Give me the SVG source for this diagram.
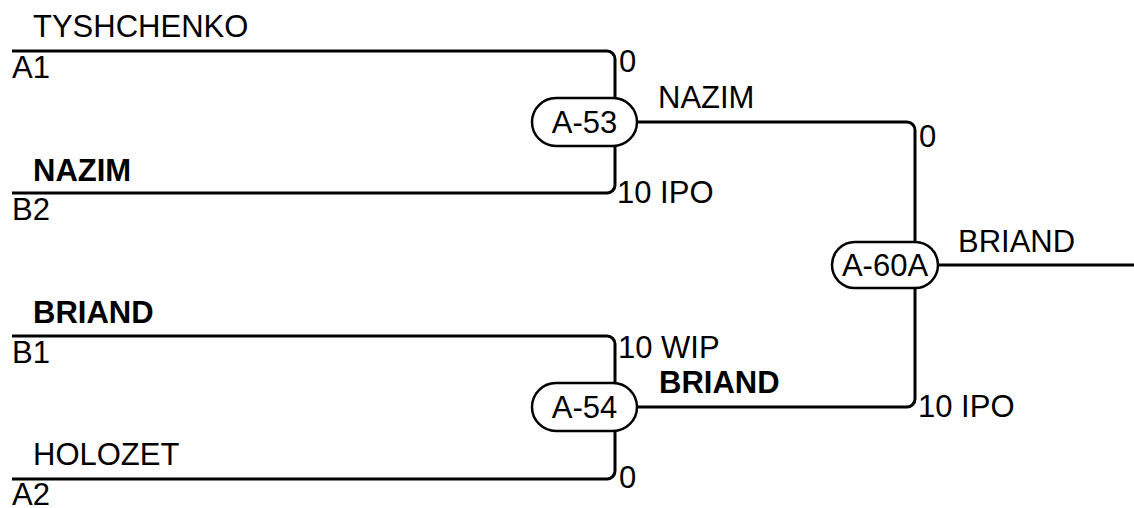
<svg xmlns="http://www.w3.org/2000/svg" width="1134" height="508" viewBox="0 0 1134 508">
<style>
text{font-family:"Liberation Sans",Arial,sans-serif;font-size:31px;fill:#000}
.b{font-weight:bold}
.c{text-anchor:middle}
.ln{fill:none;stroke:#000;stroke-width:3}
.node{fill:#fff;stroke:#000;stroke-width:2.5}
</style>
<rect width="1134" height="508" fill="#fff"/>
<g id="connectors">
<path class="ln" d="M12,51 H607 A8,8 0 0 1 615,59 V98"/>
<path class="ln" d="M12,193 H607 A8,8 0 0 0 615,185 V146"/>
<path class="ln" d="M12,336 H607 A8,8 0 0 1 615,344 V383"/>
<path class="ln" d="M12,479 H607 A8,8 0 0 0 615,471 V431"/>
<path class="ln" d="M637,122 H907 A8,8 0 0 1 915,130 V242"/>
<path class="ln" d="M637,407 H907 A8,8 0 0 0 915,399 V288"/>
<path class="ln" d="M938,265 H1134"/>
</g>
<g id="labels">
<text x="33" y="37">TYSHCHENKO</text>
<text x="12" y="78">A1</text>
<text x="33" y="181" class="b">NAZIM</text>
<text x="12" y="220">B2</text>
<text x="33" y="323" class="b">BRIAND</text>
<text x="12" y="363">B1</text>
<text x="33" y="465">HOLOZET</text>
<text x="12" y="505">A2</text>
<text x="619" y="72">0</text>
<text x="617" y="203">10 IPO</text>
<text x="658" y="108">NAZIM</text>
<text x="618" y="358">10 WIP</text>
<text x="659" y="393" class="b">BRIAND</text>
<text x="619" y="488">0</text>
<text x="919" y="147">0</text>
<text x="918" y="417">10 IPO</text>
<text x="958" y="252">BRIAND</text>
</g>
<g id="A-53">
<rect class="node" x="532" y="98" width="105" height="48" rx="24"/>
<text x="584.5" y="133" class="c">A-53</text>
</g>
<g id="A-54">
<rect class="node" x="532" y="383" width="105" height="48" rx="24"/>
<text x="584.5" y="418" class="c">A-54</text>
</g>
<g id="A-60A">
<rect class="node" x="832" y="242" width="106" height="46" rx="23"/>
<text x="885" y="276" class="c">A-60A</text>
</g>
</svg>
